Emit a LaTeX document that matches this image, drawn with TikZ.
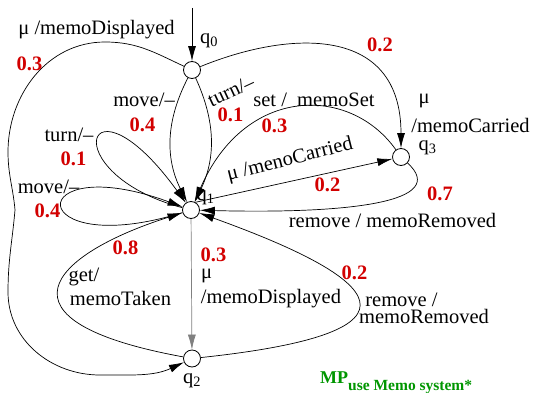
\documentclass[tikz,border=0pt]{standalone}
\usepackage{fontspec}
\setmainfont{Liberation Serif}
\usetikzlibrary{arrows.meta}
\definecolor{probred}{RGB}{210,0,0}
\definecolor{mpgreen}{RGB}{0,150,0}

\begin{document}
\begin{tikzpicture}[
    x=1pt, y=1pt,
    >={Latex[length=15pt,width=8pt]},
    every node/.style={font=\fontsize{20.5}{24}\selectfont, inner sep=0pt},
    state/.style={
        draw,
        circle,
        minimum size=17pt,
        inner sep=0pt,
        line width=0.8pt
    },
    prob/.style={text=probred, font=\fontsize{20.5}{24}\selectfont\bfseries},
    arrow/.style={->, line width=0.7pt}
]
\useasboundingbox (0,0) rectangle (534,392);

% States
\node[state] (q0) at (192,322) {};
\node[state] (q1) at (191,182) {};
\node[state] (q2) at (192,33.5) {};
\node[state] (q3) at (401,235) {};
\coordinate (init) at (192,384);

\node (q0lab) at (209,351) {q\textsubscript{0}};
\node (q1lab) at (205.5,194.5) {q\textsubscript{1}};
\node (q2lab) at (192,11) {q\textsubscript{2}};
\node (q3lab) at (427.5,244.5) {q\textsubscript{3}};

% Arrows
\draw[arrow] (init) -- (q0);
\draw[arrow] (q0) to[out=155,in=0] (105,350) to[out=180,in=90] (8,240)
    to[out=-90,in=95] (15,182) to[out=-95,in=90] (8,100)
    to[out=-90,in=180] (100,17) to[out=0,in=205] (q2);
\draw[arrow] (q0) to[bend right=27] (q1);
\draw[arrow] (q0) to[bend left=25] (q1);
\draw[arrow] (q0) .. controls (290,362) and (401,367) .. (q3);
\draw[arrow] (q3) .. controls (350,307) and (245,307) .. (q1);
\draw[arrow] (q1.60) -- (q3);
\draw[arrow] (q3) .. controls (450,190) and (350,178) .. (q1);
\draw[arrow] (q1) .. controls (52,219) and (86,327) .. (q1);
\draw[arrow] (q1) .. controls (22,130) and (22,244) .. (q1);
\draw[arrow, gray] (q1) -- (q2);
\draw[arrow] (q2) .. controls (-13,71) and (50,137) .. (q1);
\draw[arrow] (q2) .. controls (441,60) and (380,114) .. (q1);

% Transition labels
\node (l02) at (96.5,362) {μ /memoDisplayed};
\node[prob] (p02) at (29.5,328.5) {0.3};
\node (l01a) at (144,292) {move/--};
\node[prob] (p01a) at (142.5,267.5) {0.4};
\node[rotate=25] (l01b) at (231,301) {turn/--};
\node[prob] (p01b) at (230.5,277) {0.1};
\node (l31a) at (314,292) {set /\ \ memoSet};
\node[prob] (p31a) at (274.5,266) {0.3};
\node[prob] (p03) at (380,347) {0.2};
\node (l03a) at (424,291) {μ};
\node (l03b) at (470.5,267) {/memoCarried};
\node[rotate=14] (l13) at (290,232) {μ /menoCarried};
\node[prob] (p13) at (327.5,207.5) {0.2};
\node[prob] (p31b) at (440,198.5) {0.7};
\node (l31b) at (392.5,171.5) {remove / memoRemoved};
\node (l11a) at (69,257) {turn/--};
\node[prob] (p11a) at (73.5,233.5) {0.1};
\node (l11b) at (48.5,205.5) {move/--};
\node[prob] (p11b) at (47.5,181.5) {0.4};
\node[prob] (p21a) at (125.5,144.5) {0.8};
\node (l21a) at (84,115.5) {get/};
\node (l21b) at (120.5,93.5) {memoTaken};
\node[prob] (p12) at (213.5,137) {0.3};
\node (l12a) at (206.5,116) {μ};
\node (l12b) at (271,93.5) {/memoDisplayed};
\node[prob] (p21b) at (354.5,119.5) {0.2};
\node (l21c) at (401.5,92) {remove /};
\node (l21d) at (424,75.5) {memoRemoved};

\node[anchor=base west, text=mpgreen, font=\fontsize{18}{20}\selectfont\bfseries] (mp) at (320,9)
    {MP\raisebox{-7.5pt}{\fontsize{15.5}{17}\selectfont use Memo system*}};

\end{tikzpicture}
\end{document}
